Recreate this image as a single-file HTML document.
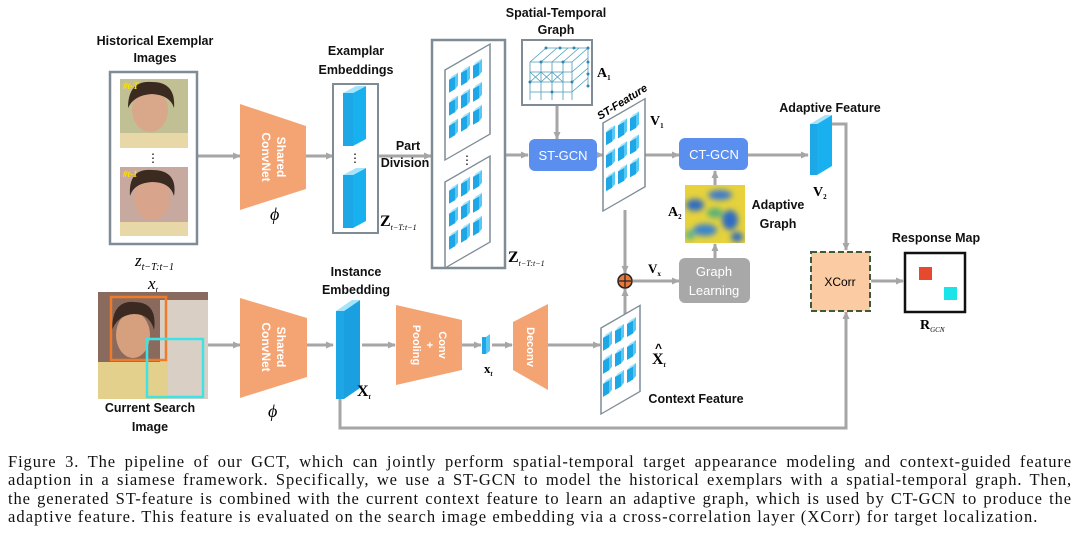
<!DOCTYPE html>
<html><head><meta charset="utf-8"><style>
html,body{margin:0;padding:0;background:#fff;}
body{width:1080px;height:547px;position:relative;overflow:hidden;}
svg{position:absolute;left:0;top:0;}
.cap{position:absolute;left:8px;top:453px;width:1064px;font-family:"Liberation Serif",serif;font-size:16.5px;letter-spacing:0.9px;line-height:18.3px;color:#111;}
.cap div{white-space:nowrap;text-align:justify;text-align-last:justify;}
.cap div.l{text-align-last:left;letter-spacing:1.08px;}
</style></head><body>
<svg width="1080" height="450" viewBox="0 0 1080 450" font-family="Liberation Sans, sans-serif">
<defs>
<marker id="ah" markerWidth="8" markerHeight="8" refX="7" refY="4" orient="auto" markerUnits="userSpaceOnUse"><path d="M0,0.5 L8,4 L0,7.5 Z" fill="#a6a6a6"/></marker>
<g id="cb"><rect x="0" y="2" width="6" height="13" fill="#1ea7e6"/><polygon points="6,2 9,0 9,13 6,15" fill="#56c8f5"/><polygon points="0,2 3,0 9,0 6,2" fill="#a6e4fb"/></g>
<g id="grid">
<use href="#cb" x="4" y="5"/><use href="#cb" x="16" y="5"/><use href="#cb" x="28" y="5"/>
<use href="#cb" x="4" y="28"/><use href="#cb" x="16" y="28"/><use href="#cb" x="28" y="28"/>
<use href="#cb" x="4" y="51"/><use href="#cb" x="16" y="51"/><use href="#cb" x="28" y="51"/>
</g>
<filter id="bl"><feGaussianBlur stdDeviation="3"/></filter>
</defs>
<g stroke="#a6a6a6" stroke-width="3" fill="none" marker-end="url(#ah)">
<line x1="198" y1="156" x2="240" y2="156"/>
<line x1="306" y1="156" x2="333" y2="156"/>
<line x1="378" y1="156" x2="431" y2="156"/>
<line x1="505" y1="155" x2="528" y2="155"/>
<line x1="597" y1="155" x2="603" y2="155"/>
<line x1="557" y1="105" x2="557" y2="139"/>
<line x1="645" y1="155" x2="679" y2="155"/>
<line x1="748" y1="155" x2="808" y2="155"/>
<polyline points="832,124 846,124 846,250"/>
<line x1="715" y1="185" x2="715" y2="171"/>
<line x1="715" y1="258" x2="715" y2="244"/>
<line x1="625" y1="210" x2="625" y2="273"/>
<line x1="625" y1="318" x2="625" y2="289"/>
<line x1="633" y1="281" x2="679" y2="281"/>
<line x1="871" y1="281" x2="903" y2="281"/>
<line x1="207" y1="345" x2="240" y2="345"/>
<line x1="307" y1="345" x2="333" y2="345"/>
<line x1="362" y1="345" x2="395" y2="345"/>
<line x1="462" y1="345" x2="481" y2="345"/>
<line x1="492" y1="345" x2="512" y2="345"/>
<line x1="548" y1="345" x2="600" y2="345"/>
<polyline points="340,398 340,428 846,428 846,312"/>
</g>
<g font-weight="bold" font-size="12.5" fill="#111" text-anchor="middle">
<text x="155" y="45">Historical Exemplar</text><text x="155" y="62">Images</text>
<text x="356" y="55">Examplar</text><text x="356" y="74">Embeddings</text>
<text x="408" y="150">Part</text><text x="405" y="167">Division</text>
<text x="556" y="17">Spatial-Temporal</text><text x="556" y="34">Graph</text>
<text x="830" y="112">Adaptive Feature</text>
<text x="778" y="209">Adaptive</text><text x="778" y="228">Graph</text>
<text x="936" y="242">Response Map</text>
<text x="356" y="276">Instance</text><text x="356" y="294">Embedding</text>
<text x="150" y="412">Current Search</text><text x="150" y="431">Image</text>
<text x="696" y="403">Context  Feature</text>
</g>
<rect x="110" y="72" width="87" height="172" fill="#fff" stroke="#7f8c95" stroke-width="2.5"/>
<rect x="120" y="79" width="68" height="69" fill="#b9c88e"/>
<rect x="120" y="79" width="68" height="69" fill="#c9b59a" opacity="0.5"/>
<ellipse cx="150" cy="110" rx="18" ry="22" fill="#d9a88a"/>
<path d="M128,108 Q128,80 152,82 Q176,82 174,108 Q170,95 152,94 Q134,95 128,108Z" fill="#3a2a20"/>
<rect x="120" y="133" width="68" height="15" fill="#e8d8a8"/>
<text x="123" y="89" font-size="9" font-style="italic" font-weight="bold" fill="#ffe000" font-family="Liberation Serif,serif">#t-T</text>
<text x="153" y="162" font-size="12" text-anchor="middle">⋮</text>
<rect x="120" y="167" width="68" height="69" fill="#c7a9a0"/>
<ellipse cx="152" cy="198" rx="18" ry="22" fill="#d8a58c"/>
<path d="M130,196 Q128,168 152,170 Q178,170 174,196 Q170,182 152,182 Q134,183 130,196Z" fill="#3a2a20"/>
<rect x="120" y="222" width="68" height="14" fill="#e8d8a8"/>
<text x="123" y="177" font-size="9" font-style="italic" font-weight="bold" fill="#ffe000" font-family="Liberation Serif,serif">#t-1</text>
<text x="135" y="266" font-size="17" font-style="italic" font-family="Liberation Serif,serif">z<tspan font-size="10" dy="4">t−T:t−1</tspan></text>
<polygon points="240,104 306,126 306,189 240,210" fill="#f4a373"/>
<text transform="translate(273,157) rotate(90)" text-anchor="middle" fill="#fff" font-weight="bold" font-size="12"><tspan x="0" dy="-4">Shared</tspan><tspan x="0" dy="15">ConvNet</tspan></text>
<text x="270" y="220" font-size="18" font-style="italic" font-family="Liberation Serif,serif">ϕ</text>
<rect x="333" y="84" width="45" height="149" fill="#fff" stroke="#7f8c95" stroke-width="2"/>
<g><rect x="343" y="93" width="10" height="53" fill="#1ea7e6"/><polygon points="353,93 366,86 366,139 353,146" fill="#18b0ee"/><polygon points="343,93 356,86 366,86 353,93" fill="#a6e4fb"/></g>
<text x="355" y="162" font-size="12" text-anchor="middle">⋮</text>
<g><rect x="343" y="175" width="10" height="53" fill="#1ea7e6"/><polygon points="353,175 366,168 366,221 353,228" fill="#18b0ee"/><polygon points="343,175 356,168 366,168 353,175" fill="#a6e4fb"/></g>
<text x="380" y="226" font-size="16" font-weight="bold" font-family="Liberation Serif,serif">Z<tspan font-size="8" font-weight="normal" font-style="italic" dy="4">t−T:t−1</tspan></text>
<rect x="432" y="40" width="73" height="228" fill="#fff" stroke="#7f8c95" stroke-width="2.5"/>
<g transform="translate(445,70) skewY(-30)"><rect x="0" y="0" width="45" height="90" fill="#fff" stroke="#7f8c95" stroke-width="1.5"/><use href="#grid" y="5"/></g>
<text x="467" y="164" font-size="12" text-anchor="middle">⋮</text>
<g transform="translate(445,182) skewY(-30)"><rect x="0" y="0" width="45" height="86" fill="#fff" stroke="#7f8c95" stroke-width="1.5"/><use href="#grid" y="4"/></g>
<text x="508" y="262" font-size="16" font-weight="bold" font-family="Liberation Serif,serif">Z<tspan font-size="8" font-weight="normal" font-style="italic" dy="4">t−T:t−1</tspan></text>
<rect x="522" y="40" width="70" height="65" fill="#fff" stroke="#7f8c95" stroke-width="2"/>
<g stroke="#4a9bb8" stroke-width="0.8" fill="none">
<path d="M530,62 h42 M530,72 h42 M530,82 h42 M530,92 h42 M530,62 v38 M541,62 v38 M552,62 v38 M563,62 v38 M572,62 v38"/>
<path d="M530,62 l16,-14 M541,62 l16,-14 M552,62 l16,-14 M563,62 l16,-14 M572,62 l16,-14 M546,48 h42 M572,72 l16,-14 M572,82 l16,-14 M572,92 l16,-14 M588,48 v38 M530,72 l11,10 M541,72 l-11,10 M541,72 l11,10 M552,72 l-11,10 M552,72 l11,10 M563,72 l-11,10"/>
</g>
<g fill="#2b87b0"><circle cx="546" cy="48" r="1.5"/><circle cx="560" cy="48" r="1.5"/><circle cx="574" cy="48" r="1.5"/><circle cx="588" cy="48" r="1.5"/><circle cx="588" cy="62" r="1.5"/><circle cx="588" cy="74" r="1.5"/><circle cx="588" cy="86" r="1.5"/><circle cx="541" cy="62" r="1.5"/><circle cx="563" cy="62" r="1.5"/><circle cx="572" cy="82" r="1.5"/><circle cx="552" cy="92" r="1.5"/><circle cx="530" cy="82" r="1.5"/></g>
<text x="597" y="77" font-size="14" font-weight="bold" font-family="Liberation Serif,serif">A<tspan font-size="7" dy="3">1</tspan></text>
<rect x="529" y="139" width="68" height="32" rx="6" fill="#5a8ff0"/>
<text x="563" y="160" font-size="13" fill="#fff" text-anchor="middle">ST-GCN</text>
<g transform="translate(603,123) skewY(-30)"><rect x="0" y="0" width="42" height="88" fill="#fff" stroke="#7f8c95" stroke-width="1.5"/><use href="#grid" y="4" x="-1"/></g>
<text transform="translate(600,120) rotate(-32)" font-size="11" font-style="italic" font-weight="bold">ST-Feature</text>
<text x="650" y="125" font-size="14" font-weight="bold" font-family="Liberation Serif,serif">V<tspan font-size="7" dy="3">1</tspan></text>
<rect x="679" y="138" width="69" height="32" rx="6" fill="#5a8ff0"/>
<text x="714" y="159" font-size="13" fill="#fff" text-anchor="middle">CT-GCN</text>
<g><rect x="810" y="124" width="7" height="51" fill="#1ea7e6"/><polygon points="817,124 832,115 832,166 817,175" fill="#18b0ee"/><polygon points="810,124 825,115 832,115 817,124" fill="#a6e4fb"/></g>
<text x="813" y="196" font-size="14" font-weight="bold" font-family="Liberation Serif,serif">V<tspan font-size="7" dy="3">2</tspan></text>
<svg x="685" y="185" width="60" height="58" viewBox="0 0 60 58">
<rect width="60" height="58" fill="#e7d23c"/>
<g filter="url(#bl)"><ellipse cx="10" cy="20" rx="9" ry="6" fill="#2f6cc4"/><ellipse cx="35" cy="10" rx="12" ry="5" fill="#3a7ad0"/><ellipse cx="45" cy="35" rx="8" ry="10" fill="#2f6cc4"/><ellipse cx="20" cy="45" rx="12" ry="6" fill="#3a84cf"/><ellipse cx="30" cy="28" rx="8" ry="5" fill="#58b07a"/><ellipse cx="52" cy="52" rx="6" ry="5" fill="#2f6cc4"/><ellipse cx="5" cy="50" rx="5" ry="5" fill="#5fb58a"/></g>
</svg>
<text x="668" y="216" font-size="14" font-weight="bold" font-family="Liberation Serif,serif">A<tspan font-size="7" dy="3">2</tspan></text>
<rect x="679" y="258" width="71" height="45" rx="6" fill="#a8a8a8"/>
<text x="714" y="276" font-size="13" fill="#fff" text-anchor="middle">Graph</text>
<text x="714" y="295" font-size="13" fill="#fff" text-anchor="middle">Learning</text>
<circle cx="625" cy="281" r="7" fill="#e8783a" stroke="#222" stroke-width="1.5"/>
<path d="M619,281 h12 M625,275 v12" stroke="#222" stroke-width="1.2"/>
<text x="648" y="273" font-size="13" font-weight="bold" font-family="Liberation Serif,serif">V<tspan font-size="7" dy="3">x</tspan></text>
<rect x="811" y="252" width="59" height="59" fill="#fbcba3" stroke="#3d5a3a" stroke-width="2" stroke-dasharray="6,3"/>
<text x="840" y="286" font-size="12" text-anchor="middle">XCorr</text>
<rect x="905" y="253" width="60" height="59" fill="#fff" stroke="#111" stroke-width="2.5"/>
<rect x="919" y="267" width="13" height="13" fill="#e54a2e"/>
<rect x="944" y="287" width="13" height="13" fill="#19e5e8"/>
<text x="920" y="329" font-size="14" font-weight="bold" font-family="Liberation Serif,serif">R<tspan font-size="7" font-weight="normal" font-style="italic" dy="3">GCN</tspan></text>
<text x="148" y="289" font-size="17" font-style="italic" font-family="Liberation Serif,serif">x<tspan font-size="9" dy="4">t</tspan></text>
<rect x="98" y="292" width="110" height="107" fill="#8a6a5c"/>
<rect x="160" y="300" width="48" height="99" fill="#d9cfc4"/>
<ellipse cx="133" cy="335" rx="17" ry="23" fill="#d6a07f"/>
<path d="M112,330 Q112,300 134,302 Q158,302 154,330 Q150,314 134,314 Q118,315 112,330Z" fill="#3b2a22"/>
<rect x="98" y="362" width="70" height="37" fill="#e3d08c"/>
<rect x="111" y="297" width="55" height="63" fill="none" stroke="#ee7a2a" stroke-width="2.5"/>
<rect x="147" y="339" width="56" height="58" fill="none" stroke="#3ee3e6" stroke-width="2.5"/>
<polygon points="240,298 307,318 307,377 240,398" fill="#f4a373"/>
<text transform="translate(273,347) rotate(90)" text-anchor="middle" fill="#fff" font-weight="bold" font-size="12"><tspan x="0" dy="-4">Shared</tspan><tspan x="0" dy="15">ConvNet</tspan></text>
<text x="268" y="417" font-size="18" font-style="italic" font-family="Liberation Serif,serif">ϕ</text>
<g><rect x="336" y="311" width="8" height="88" fill="#1ea7e6"/><polygon points="344,311 360,300 360,388 344,399" fill="#1a9fe0"/><polygon points="336,311 352,300 360,300 344,311" fill="#a6e4fb"/></g>
<text x="357" y="396" font-size="16" font-weight="bold" font-family="Liberation Serif,serif">X<tspan font-size="7" font-style="italic" dy="3">t</tspan></text>
<polygon points="396,305 462,320 462,370 396,385" fill="#f4a373"/>
<text transform="translate(429,345) rotate(90)" text-anchor="middle" fill="#fff" font-weight="bold" font-size="11"><tspan x="0" dy="-10">Conv</tspan><tspan x="0" dy="13">+</tspan><tspan x="0" dy="13">Pooling</tspan></text>
<g><rect x="482" y="337" width="4" height="17" fill="#1ea7e6"/><polygon points="486,337 490,334 490,351 486,354" fill="#56c8f5"/></g>
<text x="484" y="373" font-size="13" font-weight="bold" font-family="Liberation Serif,serif">x<tspan font-size="7" font-style="italic" dy="3">t</tspan></text>
<polygon points="513,322 548,304 548,390 513,370" fill="#f4a373"/>
<text transform="translate(531,347) rotate(90)" text-anchor="middle" fill="#fff" font-weight="bold" font-size="11"><tspan x="0" dy="4">Deconv</tspan></text>
<g transform="translate(601,328) skewY(-30)"><rect x="0" y="0" width="39" height="86" fill="#fff" stroke="#7f8c95" stroke-width="1.5"/><use href="#grid" y="4" x="-2"/></g>
<text x="652" y="364" font-size="16" font-weight="bold" font-family="Liberation Serif,serif">X<tspan font-size="7" font-style="italic" dy="3">t</tspan></text>
<text x="655" y="352" font-size="12" font-weight="bold">^</text>
</svg>
<div class="cap">
<div>Figure 3. The pipeline of our GCT, which can jointly perform spatial-temporal target appearance modeling and context-guided feature</div>
<div>adaption in a siamese framework. Specifically, we use a ST-GCN to model the historical exemplars with a spatial-temporal graph. Then,</div>
<div>the generated ST-feature is combined with the current context feature to learn an adaptive graph, which is used by CT-GCN to produce the</div>
<div class="l">adaptive feature. This feature is evaluated on the search image embedding via a cross-correlation layer (XCorr) for target localization.</div>
</div>
</body></html>
